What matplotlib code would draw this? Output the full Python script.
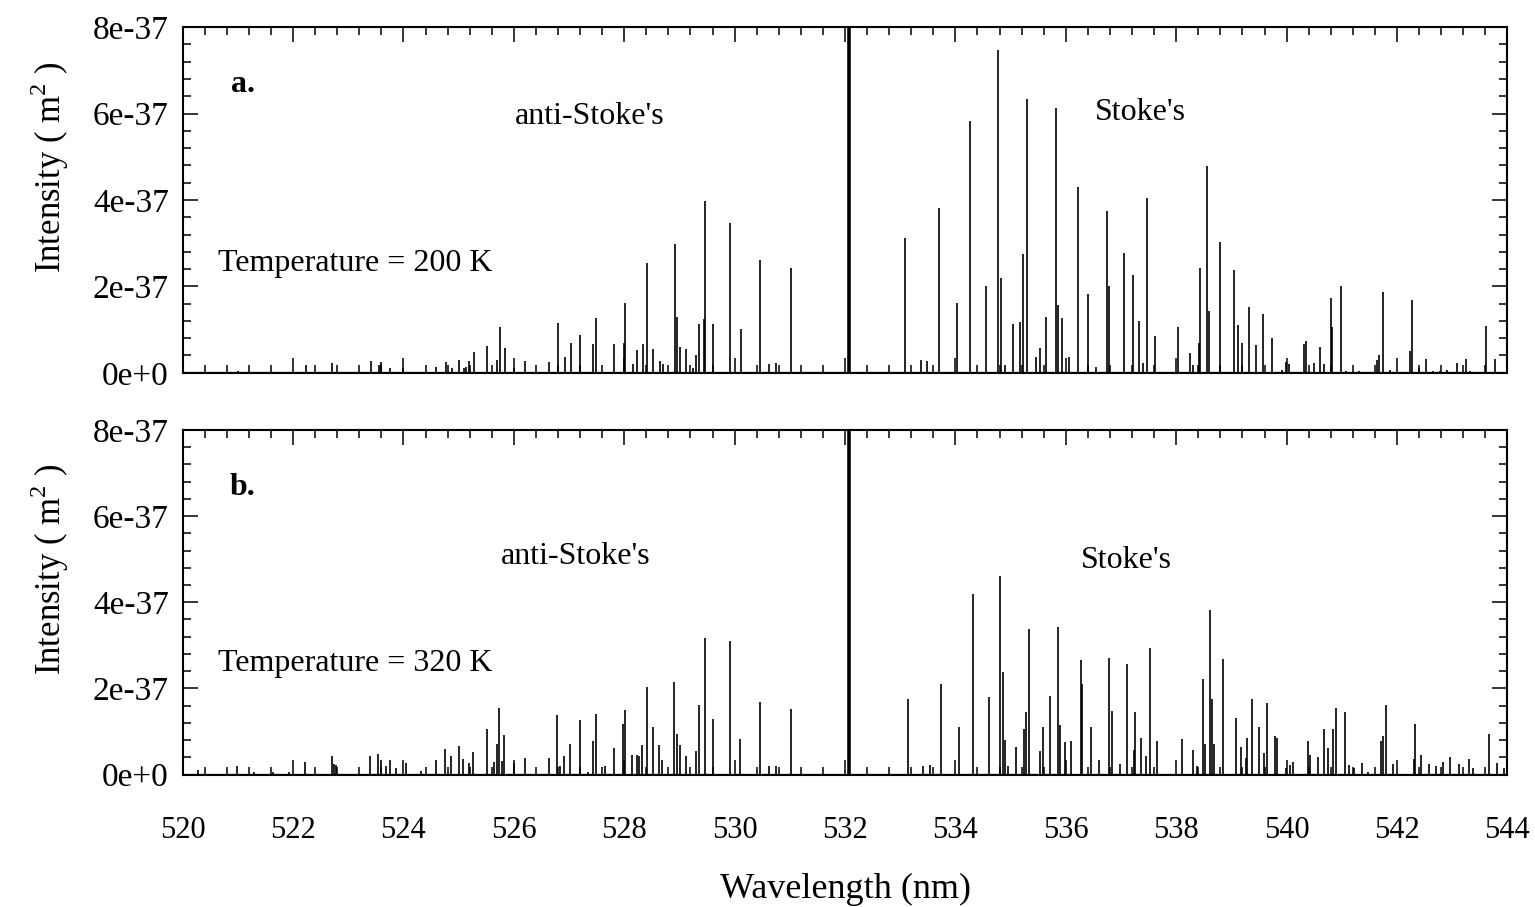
import matplotlib
matplotlib.use("Agg")
import matplotlib.pyplot as plt
from matplotlib.ticker import MultipleLocator, FuncFormatter

plt.rcParams['font.family'] = ['Liberation Serif', 'DejaVu Serif']
plt.rcParams['mathtext.fontset'] = 'custom'
plt.rcParams['mathtext.rm'] = 'Liberation Serif'

# Rayleigh (laser) line, off scale
laser_nm = 532.07
laser_int = 2e-35

# T = 200 K, wavelengths (nm) and intensities (units of 1e-37 m^2)
wl_200 = [521.01, 522.23, 522.70, 523.41, 523.55, 523.59, 523.76, 524.00, 524.59, 524.77,
          524.88, 525.01, 525.09, 525.13, 525.19, 525.27, 525.51, 525.70, 525.75, 525.84,
          526.01, 526.21, 526.64, 526.80, 526.92, 527.03, 527.19, 527.44, 527.49, 527.82,
          527.99, 528.01, 528.15, 528.24, 528.34, 528.41, 528.53, 528.64, 528.70, 528.92,
          528.96, 529.01, 529.11, 529.25, 529.30, 529.36, 529.44, 529.46, 529.60, 529.91,
          530.11, 530.46, 530.63, 530.75, 531.03,
          533.09, 533.37, 533.49, 533.70, 534.03, 534.27, 534.55, 534.78, 534.82, 534.90,
          535.05, 535.17, 535.23, 535.30, 535.46, 535.53, 535.65, 535.82, 535.85, 535.94,
          536.05, 536.23, 536.40, 536.55, 536.74, 536.78, 537.05, 537.21, 537.33, 537.39,
          537.48, 537.62, 538.04, 538.25, 538.31, 538.41, 538.43, 538.55, 538.59, 538.79,
          539.05, 539.12, 539.20, 539.31, 539.44, 539.57, 539.74, 539.92, 539.99, 540.04,
          540.31, 540.36, 540.50, 540.60, 540.68, 540.80, 540.83, 540.99, 541.08, 541.32,
          541.64, 541.67, 541.74, 541.87, 542.23, 542.27, 542.39, 542.52, 542.65, 542.78,
          542.91, 543.09, 543.25, 543.32, 543.61, 543.77]
int_200 = [0.05, 0.19, 0.22, 0.28, 0.17, 0.24, 0.10, 0.10, 0.13, 0.24,
           0.12, 0.30, 0.12, 0.13, 0.28, 0.48, 0.63, 0.30, 1.07, 0.57,
           0.12, 0.28, 0.25, 1.15, 0.37, 0.69, 0.88, 0.66, 1.26, 0.67,
           0.70, 1.61, 0.20, 0.52, 0.66, 2.53, 0.56, 0.27, 0.20, 2.98,
           1.30, 0.60, 0.56, 0.10, 0.40, 1.13, 1.25, 3.98, 1.12, 3.47,
           1.01, 2.60, 0.20, 0.23, 2.43,
           3.12, 0.29, 0.27, 3.82, 1.61, 5.84, 2.02, 7.47, 2.19, 0.18,
           1.12, 1.18, 2.74, 6.34, 0.37, 0.57, 1.28, 6.12, 1.56, 1.26,
           0.37, 4.29, 1.83, 0.14, 3.74, 2.02, 2.78, 2.26, 1.19, 0.22,
           4.04, 0.86, 1.05, 0.45, 0.18, 0.70, 2.43, 4.78, 1.44, 3.02,
           2.37, 1.10, 0.68, 1.53, 0.64, 1.36, 0.80, 0.06, 0.26, 0.20,
           0.66, 0.74, 0.22, 0.59, 0.20, 1.73, 1.05, 2.00, 0.05, 0.04,
           0.30, 0.41, 1.88, 0.07, 0.50, 1.69, 0.10, 0.33, 0.03, 0.05,
           0.07, 0.23, 0.33, 0.04, 1.09, 0.31]

# T = 320 K
wl_320 = [520.28, 520.99, 521.30, 521.64, 521.93, 522.22, 522.70, 522.74, 522.77, 523.40,
          523.54, 523.59, 523.69, 523.76, 523.87, 524.05, 524.31, 524.59, 524.76, 524.87,
          525.00, 525.08, 525.18, 525.26, 525.51, 525.64, 525.69, 525.74, 525.78, 525.83,
          526.00, 526.21, 526.63, 526.79, 526.83, 526.91, 527.02, 527.19, 527.34, 527.43,
          527.48, 527.65, 527.81, 527.98, 528.01, 528.14, 528.23, 528.27, 528.33, 528.41,
          528.52, 528.63, 528.69, 528.91, 528.95, 529.01, 529.11, 529.30, 529.35, 529.46,
          529.60, 529.91, 530.10, 530.46, 530.62, 530.75, 531.03,
          533.14, 533.42, 533.54, 533.74, 534.07, 534.31, 534.60, 534.80, 534.87, 534.89,
          534.95, 535.09, 535.24, 535.27, 535.33, 535.53, 535.59, 535.71, 535.85, 535.90,
          535.99, 536.10, 536.27, 536.29, 536.45, 536.60, 536.79, 536.83, 536.99, 537.11,
          537.23, 537.26, 537.37, 537.46, 537.52, 537.66, 538.11, 538.31, 538.37, 538.49,
          538.52, 538.61, 538.64, 538.68, 538.85, 539.09, 539.17, 539.26, 539.28, 539.37,
          539.50, 539.59, 539.64, 539.79, 539.82, 539.99, 540.06, 540.11, 540.38, 540.43,
          540.57, 540.67, 540.75, 540.84, 540.89, 541.05, 541.13, 541.22, 541.36, 541.47,
          541.71, 541.74, 541.80, 541.93, 542.30, 542.32, 542.44, 542.58, 542.70, 542.83,
          542.96, 543.13, 543.31, 543.38, 543.66, 543.81, 543.93]
int_320 = [0.10, 0.21, 0.06, 0.06, 0.05, 0.30, 0.43, 0.25, 0.23, 0.44,
           0.47, 0.34, 0.20, 0.34, 0.15, 0.26, 0.08, 0.33, 0.60, 0.42,
           0.66, 0.35, 0.27, 0.52, 1.06, 0.30, 0.72, 1.55, 0.32, 0.91,
           0.26, 0.38, 0.38, 1.38, 0.21, 0.43, 0.71, 1.27, 0.05, 0.77,
           1.41, 0.21, 0.61, 1.17, 1.49, 0.46, 0.46, 0.44, 0.69, 2.03,
           1.11, 0.69, 0.34, 2.14, 0.94, 0.69, 0.42, 0.55, 1.62, 3.18,
           1.29, 3.09, 0.83, 1.69, 0.21, 0.19, 1.52,
           1.75, 0.21, 0.23, 2.11, 1.10, 4.19, 1.81, 4.62, 2.38, 0.80,
           0.20, 0.63, 1.06, 1.45, 3.39, 0.54, 1.10, 1.83, 3.43, 1.14,
           0.75, 0.77, 2.66, 2.10, 1.11, 0.33, 2.70, 1.47, 0.24, 2.56,
           0.58, 1.46, 0.86, 0.42, 2.93, 0.78, 0.82, 0.56, 0.21, 2.23,
           0.72, 3.82, 1.76, 0.71, 2.69, 1.31, 0.65, 0.38, 0.85, 1.76,
           1.10, 0.50, 1.65, 0.89, 0.86, 0.16, 0.22, 0.30, 0.78, 0.46,
           0.40, 1.06, 0.61, 1.06, 1.55, 1.45, 0.22, 0.16, 0.28, 0.06,
           0.77, 0.89, 1.62, 0.24, 0.36, 1.18, 0.46, 0.24, 0.19, 0.29,
           0.40, 0.24, 0.37, 0.16, 0.94, 0.26, 0.15]

xticks = [520, 522, 524, 526, 528, 530, 532, 534, 536, 538, 540, 542, 544]
yticks = [0, 2e-37, 4e-37, 6e-37, 8e-37]


def ylab(v, pos):
    if v == 0:
        return "0e+0"
    m, e = ("%.0e" % v).split("e")
    return "%se%d" % (m, int(e))


fig = plt.figure(figsize=(15.35, 9.07), dpi=100)
ax1 = fig.add_axes([0.119, 0.589, 0.863, 0.381])
ax2 = fig.add_axes([0.119, 0.146, 0.863, 0.380])

panels = [
    (ax1, wl_200, int_200, "a.", "Temperature = 200 K", (590, 117), (1140, 112), 263),
    (ax2, wl_320, int_320, "b.", "Temperature = 320 K", (576, 557), (1126, 560), 663),
]

for ax, wl, inten, tag, temp, anti_pos, stokes_pos, ty in panels:
    ax.hlines(0.0, 520, 544, color="black", lw=1.6)
    ax.vlines(wl, 0, [v * 1e-37 for v in inten], color="black", lw=1.2)
    ax.vlines([laser_nm], 0, [laser_int], color="black", lw=2.6)
    ax.set_xlim(520, 544)
    ax.set_ylim(0, 8e-37)
    ax.set_xticks(xticks)
    ax.set_yticks(yticks)
    ax.xaxis.set_minor_locator(MultipleLocator(0.4))
    ax.yaxis.set_minor_locator(MultipleLocator(0.4e-37))
    ax.yaxis.set_major_formatter(FuncFormatter(ylab))
    ax.tick_params(which="both", direction="in", top=True, right=True, width=1.1)
    ax.tick_params(which="major", length=11)
    ax.tick_params(which="minor", length=6)
    ax.tick_params(axis="y", which="major", labelsize=24, pad=10)
    ax.tick_params(axis="x", which="major", labelsize=22, pad=30)
    for s in ax.spines.values():
        s.set_linewidth(1.5)
    ax.set_ylabel("Intensity ( m$^2$ )", fontsize=25)
    ax.yaxis.set_label_coords(-0.084, 0.595)

    fig.text(243 / 1535, 1 - (84 if tag == "a." else 488) / 907, tag, fontsize=23,
             fontweight="bold", ha="center", va="center")
    fig.text(218 / 1535, 1 - ty / 907, temp, fontsize=23, ha="left", va="center")
    fig.text(anti_pos[0] / 1535, 1 - anti_pos[1] / 907, "anti-Stoke's", fontsize=23,
             ha="center", va="center")
    fig.text(stokes_pos[0] / 1535, 1 - stokes_pos[1] / 907, "Stoke's", fontsize=23,
             ha="center", va="center")

ax1.tick_params(labelbottom=False)
ax2.set_xlabel("Wavelength (nm)", fontsize=26, labelpad=20)

fig.savefig("out.png", dpi=100)
